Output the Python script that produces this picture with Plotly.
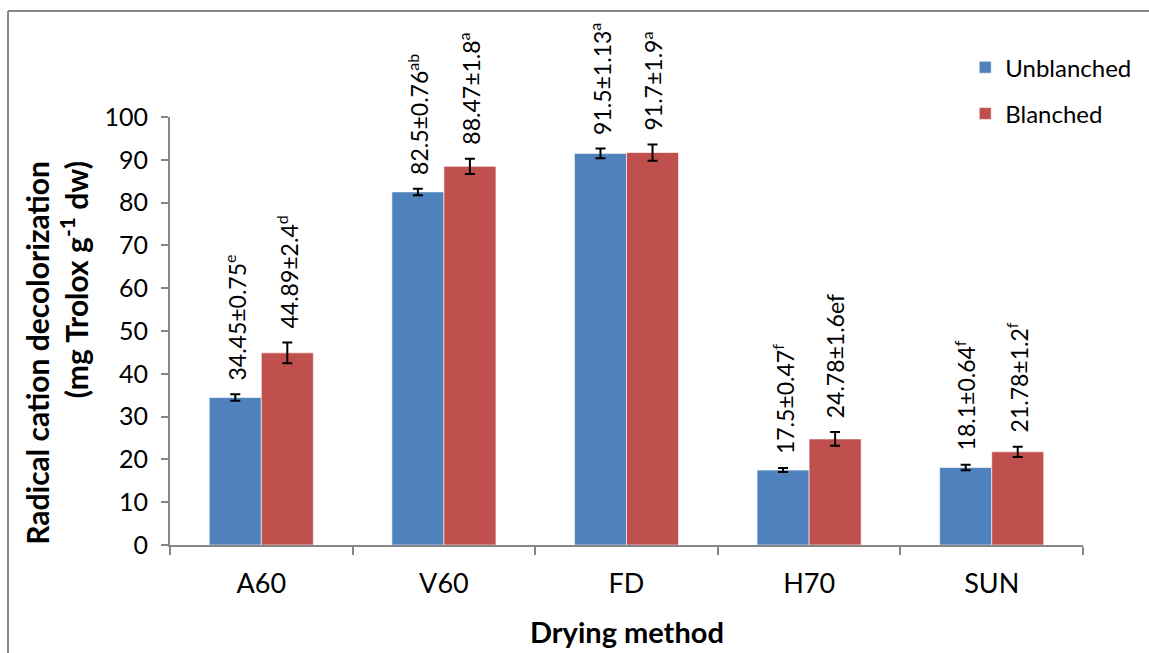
import plotly.graph_objects as go

categories = ["A60", "V60", "FD", "H70", "SUN"]
unblanched = [34.45, 82.5, 91.5, 17.5, 18.1]
unblanched_err = [0.75, 0.76, 1.13, 0.47, 0.64]
unblanched_lbl = ["34.45±0.75<sup>e</sup>", "82.5±0.76<sup>ab</sup>", "91.5±1.13<sup>a</sup>",
                  "17.5±0.47<sup>f</sup>", "18.1±0.64<sup>f</sup>"]
blanched = [44.89, 88.47, 91.7, 24.78, 21.78]
blanched_err = [2.4, 1.8, 1.9, 1.6, 1.2]
blanched_lbl = ["44.89±2.4<sup>d</sup>", "88.47±1.8<sup>a</sup>", "91.7±1.9<sup>a</sup>",
                "24.78±1.6ef", "21.78±1.2<sup>f</sup>"]
y_ticks = [0, 10, 20, 30, 40, 50, 60, 70, 80, 90, 100]

FONT = "Lato"
BLUE = "#4F81BD"
RED = "#C0504D"
GREY = "#868686"

fig = go.Figure()
fig.add_trace(go.Bar(
    x=categories, y=unblanched, name="Unblanched", legendgroup="u",
    marker=dict(color=BLUE, line=dict(color="rgba(255,255,255,0.6)", width=1)),
    error_y=dict(type="data", array=unblanched_err, color="black", thickness=2, width=5),
))
fig.add_trace(go.Bar(
    x=categories, y=blanched, name="Blanched", legendgroup="b",
    marker=dict(color=RED, line=dict(color="rgba(255,255,255,0.6)", width=1)),
    error_y=dict(type="data", array=blanched_err, color="black", thickness=2, width=5),
))

annotations = []
for i, c in enumerate(categories):
    for vals, errs, lbls, off in ((unblanched, unblanched_err, unblanched_lbl, -0.143),
                                  (blanched, blanched_err, blanched_lbl, 0.143)):
        annotations.append(dict(
            x=i + off, y=vals[i] + errs[i], xref="x", yref="y",
            text=lbls[i], textangle=-90, showarrow=False,
            xanchor="center", yanchor="bottom", yshift=12,
            font=dict(family=FONT, size=23, color="black"),
        ))

# axis titles
annotations.append(dict(
    x=-0.124, y=0.4486, xref="paper", yref="paper",
    text="<b>Radical cation decolorization</b><br><b>(mg Trolox g<sup>-1</sup> dw)</b>",
    textangle=-90, showarrow=False, xanchor="center", yanchor="middle", align="right",
    font=dict(family=FONT, size=30, color="black"),
))
annotations.append(dict(
    x=0.5, y=-0.203, xref="paper", yref="paper",
    text="<b>Drying method</b>", showarrow=False, xanchor="center", yanchor="middle",
    font=dict(family=FONT, size=29, color="black"),
))

shapes = [
    dict(type="line", xref="paper", yref="paper", x0=-0.1774, x1=-0.1774, y0=-0.3, y1=1.2477,
         line=dict(color=GREY, width=2)),
    dict(type="line", xref="paper", yref="paper", x0=-0.1774, x1=1.2, y0=1.2477, y1=1.2477,
         line=dict(color=GREY, width=2)),
]

fig.update_layout(
    width=1149, height=653,
    margin=dict(l=170, r=66, t=117, b=108, autoexpand=False),
    paper_bgcolor="white", plot_bgcolor="white",
    barmode="group", bargap=0.43, bargroupgap=0,
    font=dict(family=FONT, color="black"),
    showlegend=True,
    legend=dict(x=0.871, y=1.168, xanchor="left", yanchor="top",
                font=dict(family=FONT, size=24, color="black"),
                itemwidth=30, tracegroupgap=12, bgcolor="rgba(0,0,0,0)"),
    annotations=annotations,
    shapes=shapes,
)
fig.update_xaxes(
    showline=True, linecolor=GREY, linewidth=2, ticks="outside", tickson="boundaries",
    ticklen=8, tickcolor=GREY, tickwidth=2, ticklabelstandoff=14,
    tickfont=dict(family=FONT, size=27, color="black"), showgrid=False,
)
fig.update_yaxes(
    range=[0, 100], tickvals=y_ticks, showline=True, linecolor=GREY, linewidth=2,
    ticks="outside", ticklen=7, tickcolor=GREY, tickwidth=2, ticklabelstandoff=8,
    tickfont=dict(family=FONT, size=25, color="black"), showgrid=False, zeroline=False,
)

fig.write_html("out.html", config={"displayModeBar": False},
               post_script="document.body.style.margin='0';")
